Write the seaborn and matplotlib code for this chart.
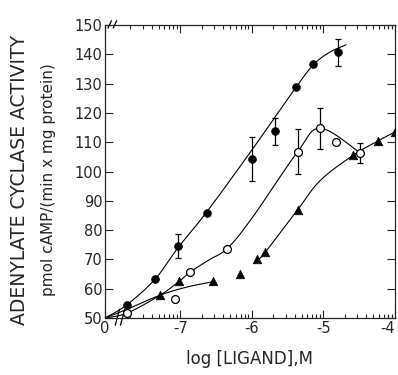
import numpy as np
import pandas as pd
import seaborn as sns
import matplotlib.pyplot as plt

# Data (x = log [ligand], M ; "0" sits at -8.05 on the axis)
zero_pos = -8.05

# filled circles
fc_x = [-7.74, -7.35, -7.03, -6.62, -6.0, -5.67, -5.38, -5.14, -4.80]
fc_y = [54.4, 63.3, 74.6, 85.8, 104.3, 113.8, 128.8, 136.7, 140.8]
fc_err = [0, 0, 4.0, 0, 7.5, 4.6, 0, 0, 4.6]

# open circles
oc_x = [-7.74, -7.07, -6.86, -6.34, -5.36, -5.04, -4.82, -4.48]
oc_y = [51.7, 56.5, 65.7, 73.5, 106.7, 114.8, 110.1, 106.3]
oc_err = [0, 0, 0, 0, 7.7, 7.0, 0, 3.3]

# filled triangles
ft_x = [-7.28, -7.01, -6.54, -6.17, -5.92, -5.81, -5.36, -4.58, -4.24, -4.0]
ft_y = [57.8, 62.6, 62.6, 65.0, 70.1, 72.5, 86.9, 105.6, 110.4, 113.5]

# hand drawn curves through the points
c1_x = [zero_pos, -7.74, -7.35, -7.03, -6.62, -6.0, -5.38, -5.14, -4.92, -4.68]
c1_y = [50, 54.6, 63.3, 74.0, 86.5, 107.3, 128.8, 136.4, 140.6, 143.3]
c2_x = [zero_pos, -7.74, -7.28, -7.01, -6.86, -6.6, -6.34, -6.0, -5.36, -5.04, -4.48]
c2_y = [50, 51.7, 57.8, 62.6, 65.7, 69.8, 73.8, 84.0, 106.7, 114.8, 106.3]
c3_x = [zero_pos, -7.74, -7.28, -6.9, -6.54]
c3_y = [50, 53.0, 57.8, 60.6, 62.4]
c4_x = [-5.92, -5.81, -5.36, -5.04, -4.58, -4.24, -4.0]
c4_y = [69.8, 72.5, 86.9, 97.0, 105.6, 110.4, 113.5]

x_ticks = [zero_pos, -7, -6, -5, -4]
x_labels = ['0', '-7', '-6', '-5', '-4']
y_ticks = list(range(50, 151, 10))


def smooth(xs, ys, n=12):
    # Catmull-Rom pass so the pen-drawn curves are not angular
    p = np.column_stack([xs, ys]).astype(float)
    p = np.vstack([p[0], p, p[-1]])
    out = []
    t = np.linspace(0, 1, n, endpoint=False)[:, None]
    for i in range(1, len(p) - 2):
        p0, p1, p2, p3 = p[i - 1], p[i], p[i + 1], p[i + 2]
        seg = 0.5 * (2 * p1 + (-p0 + p2) * t
                     + (2 * p0 - 5 * p1 + 4 * p2 - p3) * t ** 2
                     + (-p0 + 3 * p1 - 3 * p2 + p3) * t ** 3)
        out.append(seg)
    out.append(p[-2][None, :])
    out = np.vstack(out)
    return out[:, 0], out[:, 1]


sns.set_style("ticks")
plt.rcParams['font.family'] = ['DejaVu Sans']

fig = plt.figure(figsize=(3.98, 3.75), dpi=100)
ax = fig.add_axes([0.264, 0.152, 0.728, 0.781])

# curves
for cx, cy in [(c1_x, c1_y), (c2_x, c2_y), (c3_x, c3_y), (c4_x, c4_y)]:
    sx, sy = smooth(cx, cy)
    sns.lineplot(x=sx, y=sy, ax=ax, color='black', lw=0.8, sort=False)

# error bars
for ex, ey, ee in [(fc_x, fc_y, fc_err), (oc_x, oc_y, oc_err)]:
    e = pd.DataFrame({'x': ex, 'y': ey, 'e': ee})
    e = e[e['e'] > 0]
    ax.errorbar(e['x'], e['y'], yerr=e['e'], fmt='none', ecolor='black',
                elinewidth=0.9, capsize=2, capthick=0.9, zorder=3)

# markers
sns.scatterplot(x=fc_x, y=fc_y, ax=ax, marker='o', s=32, color='black',
                edgecolor='black', zorder=4)
sns.scatterplot(x=oc_x, y=oc_y, ax=ax, marker='o', s=32, color='white',
                edgecolor='black', linewidth=0.9, zorder=4)
sns.scatterplot(x=ft_x, y=ft_y, ax=ax, marker='^', s=38, color='black',
                edgecolor='black', zorder=4)

ax.set_xlim(zero_pos, -4)
ax.set_ylim(50, 150)
ax.set_xticks(x_ticks)
ax.set_xticklabels(x_labels, fontsize=10.5)
ax.get_xticklabels()[-1].set_horizontalalignment('right')
ax.set_yticks(y_ticks)
ax.set_yticklabels([str(v) for v in y_ticks], fontsize=10.5)

minor = [d + np.log10(k) for d in [-8, -7, -6, -5] for k in range(2, 10)]
minor = [m for m in minor if m > -7.75]
ax.set_xticks(minor, minor=True)
ax.tick_params(axis='both', which='major', direction='in', length=6,
               width=0.8, top=True, right=True, pad=2)
ax.tick_params(axis='x', which='minor', direction='in', length=3,
               width=0.8, top=True, bottom=True)
for s in ax.spines.values():
    s.set_linewidth(0.9)

# axis break marks
tr = ax.transAxes
for dx in [0.0, 0.018]:
    ax.plot([0.035 + dx, 0.05 + dx], [-0.025, 0.03], transform=tr,
            color='black', lw=0.9, clip_on=False)
    ax.plot([0.01 + dx, 0.022 + dx], [0.99, 1.015], transform=tr,
            color='black', lw=0.9, clip_on=False)

ax.set_xlabel('log [LIGAND],M', fontsize=12, labelpad=10)
fig.text(0.05, 0.52, 'ADENYLATE CYCLASE ACTIVITY', rotation=90,
         ha='center', va='center', fontsize=13.5)
fig.text(0.122, 0.52, 'pmol cAMP/(min x mg protein)', rotation=90,
         ha='center', va='center', fontsize=11)

fig.savefig('out.png', dpi=100)
